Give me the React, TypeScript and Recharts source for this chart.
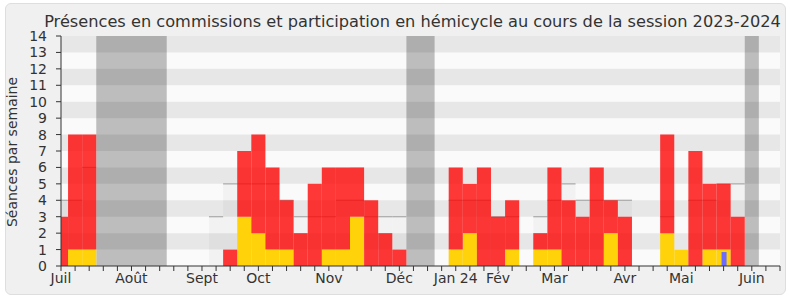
import React from "react";
import { BarChart, Bar, XAxis, YAxis, ReferenceArea, CartesianGrid } from "recharts";

// one entry per week, week 0 = first week of July 2023
const weeks = [
  0, 1, 2, 3, 4, 5, 6, 7, 8, 9, 10, 11, 12, 13, 14, 15, 16, 17, 18, 19, 20, 21, 22, 23, 24, 25,
  26, 27, 28, 29, 30, 31, 32, 33, 34, 35, 36, 37, 38, 39, 40, 41, 42, 43, 44, 45, 46, 47, 48, 49, 50, 51,
];
// total seances (top of the red bar)
const presences = [
  3, 8, 8, 0, 0, 0, 0, 0, 0, 0, 0, 0, 1, 7, 8, 6, 4, 2, 5, 6, 6, 6, 4, 2, 1, 0,
  0, 0, 6, 5, 6, 3, 4, 0, 2, 6, 4, 3, 6, 4, 3, 0, 0, 8, 1, 7, 5, 5, 3, 0, 0, 0,
];
// participation en hemicycle (yellow)
const hemicycle = [
  0, 1, 1, 0, 0, 0, 0, 0, 0, 0, 0, 0, 0, 3, 2, 1, 1, 0, 0, 1, 1, 3, 0, 0, 0, 0,
  0, 0, 1, 2, 0, 0, 1, 0, 1, 1, 0, 0, 0, 2, 0, 0, 0, 2, 1, 0, 1, 1, 0, 0, 0, 0,
];
// questions orales (blue)
const questions = [
  0, 0, 0, 0, 0, 0, 0, 0, 0, 0, 0, 0, 0, 0, 0, 0, 0, 0, 0, 0, 0, 0, 0, 0, 0, 0,
  0, 0, 0, 0, 0, 0, 0, 0, 0, 0, 0, 0, 0, 0, 0, 0, 0, 0, 0, 0, 0, 0.85, 0, 0, 0, 0,
];
// mediane des deputes (gray)
const mediane = [
  4, 4, 6, 0, 0, 0, 0, 0, 0, 0, 0, 3, 5, 5, 5, 5, 4, 3, 3, 3, 4, 4, 3, 3, 3, 0,
  0, 0, 4, 4, 4, 3, 3, 0, 3, 4, 5, 4, 4, 4, 4, 0, 0, 3, 0, 4, 4, 5, 5, 0, 0, 0,
];
// vacances parlementaires [first week, last week]
const vacances = [
  [3, 7],
  [25, 26],
  [49, 49],
];
const monthWeeks = [0, 5, 10, 14, 19, 24, 28, 31, 35, 40, 44, 49];
const monthLabels = ["Juil", "Août", "Sept", "Oct", "Nov", "Déc", "Jan 24", "Fév", "Mar", "Avr", "Mai", "Juin"];
const yTicks = [0, 1, 2, 3, 4, 5, 6, 7, 8, 9, 10, 11, 12, 13, 14];
const stripes = [1, 3, 5, 7, 9, 11, 13];

const rows = weeks.map((w, i) => ({
  w,
  hemi: hemicycle[i],
  comm: presences[i] - hemicycle[i],
  q: questions[i] > 0 ? questions[i] : null,
  med: mediane[i],
}));

const MedianShape = (props: any) => {
  const { x, y, width, height } = props;
  if (!height || height <= 0) return <g />;
  return (
    <g>
      <rect x={x} y={y} width={width} height={height} fill="#000" fillOpacity={0.03} />
      <line x1={x} x2={x + width} y1={y} y2={y} stroke="#a8a8a8" strokeWidth={1.2} />
    </g>
  );
};

const W = 14.09;

export default function App() {
  return (
    <div
      style={{
        position: "absolute",
        left: 0,
        top: 0,
        width: 790,
        height: 300,
        background: "#fff",
        fontFamily: "'DejaVu Sans', sans-serif",
      }}
    >
      <div
        style={{
          position: "absolute",
          left: 5,
          top: 3,
          width: 781,
          height: 292,
          boxSizing: "border-box",
          background: "#f0f0f0",
          border: "1px solid #dedede",
          borderRadius: 6,
        }}
      />
      <div style={{ position: "absolute", left: 0, top: 0 }}>
        <BarChart
          width={790}
          height={300}
          data={rows}
          margin={{ top: 36, right: 10, bottom: 0, left: 0 }}
          barCategoryGap={0}
          barGap={0}
        >
          <CartesianGrid fill="#fafafa" horizontal={false} vertical={false} />
          <XAxis
            dataKey="w"
            type="number"
            domain={[0, 51]}
            allowDataOverflow
            ticks={weeks}
            interval={0}
            tickFormatter={(v) => {
              const k = monthWeeks.indexOf(v);
              return k >= 0 ? monthLabels[k] : "";
            }}
            tickSize={5}
            height={34}
            stroke="#333"
            tick={{ fill: "#333", fontSize: 14 }}
          />
          <XAxis
            xAxisId="top"
            orientation="top"
            dataKey="w"
            type="number"
            domain={[0, 51]}
            allowDataOverflow
            ticks={weeks}
            interval={0}
            tick={false}
            axisLine={false}
            tickSize={2}
            height={0}
            stroke="#444"
          />
          <XAxis xAxisId="med" dataKey="w" type="number" domain={[0, 51]} allowDataOverflow hide />
          <XAxis xAxisId="q" dataKey="w" type="number" domain={[0, 51]} allowDataOverflow hide />
          <YAxis
            type="number"
            domain={[0, 14]}
            ticks={yTicks}
            interval={0}
            width={61}
            tickSize={5}
            tickMargin={9}
            stroke="#333"
            tick={{ fill: "#333", fontSize: 14 }}
            allowDataOverflow
          />
          {vacances.map(([a, b]) => (
            <ReferenceArea
              key={"v" + a}
              x1={a - 0.5}
              x2={b + 0.5}
              fill="#000"
              fillOpacity={0.245}
              stroke="none"
            />
          ))}
          <Bar xAxisId="med" dataKey="med" shape={MedianShape} barSize={W} isAnimationActive={false} />
          <Bar dataKey="hemi" stackId="p" fill="#ffd20a" barSize={W} isAnimationActive={false} />
          <Bar dataKey="comm" stackId="p" fill="#ff0000" fillOpacity={0.78} barSize={W} isAnimationActive={false} />
          <Bar xAxisId="q" dataKey="q" fill="#6b6bff" barSize={5} isAnimationActive={false} />
          {stripes.map((k) => (
            <ReferenceArea key={"s" + k} y1={k} y2={k + 1} fill="#000" fillOpacity={0.075} stroke="none" />
          ))}
        </BarChart>
      </div>
      <svg
        width={790}
        height={300}
        style={{ position: "absolute", left: 0, top: 0, pointerEvents: "none" }}
      >
        <text x={412.5} y={26.5} textAnchor="middle" fontSize={16.2} fill="#333">
          Présences en commissions et participation en hémicycle au cours de la session 2023-2024
        </text>
        <text transform="translate(17,152) rotate(-90)" textAnchor="middle" fontSize={14} fill="#333">
          Séances par semaine
        </text>
      </svg>
    </div>
  );
}
